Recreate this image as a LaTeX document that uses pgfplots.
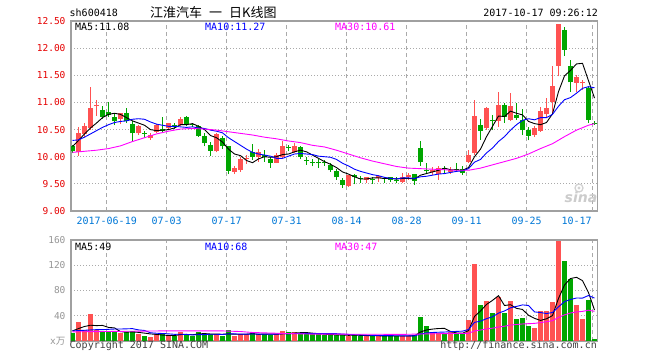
\documentclass[border=0pt]{standalone}
\usepackage{fontspec}
\usepackage{pgfplots}
\usepackage{pgfplotstable}
\pgfplotsset{compat=1.18}
\setmainfont{DejaVu Sans Mono}
\newfontfamily\cjk{Noto Sans CJK SC}
\newfontfamily\sinaf{DejaVu Sans}
\definecolor{kred}{RGB}{255,82,82}
\definecolor{kgreen}{RGB}{0,166,0}
\definecolor{tickred}{RGB}{230,0,0}
\definecolor{dateblue}{RGB}{0,120,215}
\definecolor{framec}{RGB}{160,160,160}
\definecolor{gridc}{RGB}{170,170,170}
\definecolor{ma10}{RGB}{0,0,255}
\definecolor{ma30}{RGB}{255,0,255}
\definecolor{volgray}{RGB}{150,150,150}
\definecolor{textgray}{RGB}{64,64,64}

% red (rising) candles: i low high open close volume
\pgfplotstableread{
i lo hi b0 b1 v
1 10.02 10.55 10.08 10.43 30.4
2 10.36 10.62 10.42 10.56 18
3 10.50 11.28 10.52 10.90 42.7
4 10.75 11.05 10.93 10.95 18
8 10.60 10.81 10.69 10.80 12.8
11 10.40 10.59 10.43 10.57 10.7
13 10.31 10.43 10.34 10.40 6.4
14 10.44 10.61 10.46 10.59 10.7
16 10.49 10.63 10.52 10.62 7.5
18 10.56 10.74 10.59 10.69 14.4
24 10.08 10.44 10.10 10.42 10.7
27 9.68 9.83 9.72 9.80 7.5
28 9.72 9.99 9.75 9.95 10.7
29 9.87 10.03 9.95 9.98 10.7
31 9.91 10.15 10.00 10.09 10.7
34 9.88 10.06 9.89 10.03 10.7
35 9.97 10.29 9.99 10.20 16
37 10.06 10.26 10.09 10.19 13.9
46 9.45 9.67 9.46 9.66 8
49 9.52 9.63 9.58 9.62 8
51 9.54 9.66 9.60 9.64 8
55 9.52 9.70 9.54 9.62 8
56 9.58 9.70 9.63 9.66 8
60 9.66 9.81 9.72 9.75 15
61 9.58 9.82 9.69 9.80 12.3
63 9.68 9.81 9.72 9.75 13.9
66 9.89 10.12 9.91 10.03 33.3
67 10.03 11.05 10.06 10.75 122.7
69 10.50 10.91 10.52 10.89 64
71 10.55 11.20 10.65 10.96 70.5
73 10.66 11.17 10.68 10.94 64
77 10.37 10.57 10.40 10.52 20.5
78 10.46 10.91 10.48 10.85 47.7
79 10.74 11.08 10.78 10.89 47.7
80 10.80 11.67 11.00 11.30 61.5
81 11.48 12.44 11.68 12.44 159
84 11.20 11.51 11.36 11.47 57
85 11.23 11.42 11.35 11.37 35
}\redtab

% green (falling) candles: i low high close open volume
\pgfplotstableread{
i lo hi b0 b1 v
0 10.06 10.22 10.10 10.20 12.8
5 10.70 10.93 10.74 10.86 14.4
6 10.73 11.00 10.77 10.82 14.4
7 10.58 10.80 10.65 10.74 14.4
9 10.62 10.90 10.66 10.80 14.4
10 10.28 10.65 10.43 10.61 16
12 10.35 10.48 10.42 10.44 8.5
15 10.46 10.74 10.48 10.51 10.7
17 10.51 10.63 10.56 10.59 7.5
19 10.56 10.75 10.61 10.74 11.7
20 10.55 10.63 10.58 10.61 8.5
21 10.37 10.59 10.38 10.56 13.9
22 10.19 10.43 10.25 10.38 10.7
23 10.02 10.28 10.11 10.22 10.7
25 10.15 10.38 10.19 10.34 7.5
26 9.68 10.20 9.74 10.19 17
30 9.94 10.24 10.00 10.09 12.8
32 9.91 10.12 9.99 10.03 10.7
33 9.80 9.99 9.88 9.95 9
36 10.10 10.22 10.16 10.18 13.9
38 9.95 10.19 10.00 10.17 11.7
39 9.85 10.00 9.92 9.94 11.7
40 9.82 9.95 9.88 9.90 10.7
41 9.79 9.95 9.88 9.90 10.7
42 9.83 9.94 9.88 9.90 9
43 9.72 9.89 9.75 9.85 9
44 9.58 9.78 9.62 9.74 9.6
45 9.43 9.60 9.48 9.57 9.6
47 9.49 9.69 9.62 9.66 9.6
48 9.52 9.64 9.59 9.61 8
50 9.50 9.63 9.57 9.59 8
52 9.52 9.63 9.59 9.61 8
53 9.54 9.63 9.58 9.62 8
54 9.51 9.63 9.55 9.57 8
57 9.48 9.69 9.56 9.68 9.6
58 9.83 10.29 9.90 10.16 38
59 9.69 9.89 9.73 9.75 24
62 9.69 9.83 9.77 9.79 10.7
64 9.72 9.89 9.75 9.77 12.3
65 9.66 9.83 9.70 9.77 12.3
68 10.31 10.69 10.48 10.59 57.3
70 10.49 10.77 10.65 10.67 44.6
72 10.63 10.99 10.74 10.96 44.6
74 10.68 10.99 10.71 10.77 35
75 10.40 10.88 10.49 10.68 36
76 10.30 10.55 10.38 10.49 24
82 11.86 12.39 11.97 12.34 127
83 11.20 11.78 11.37 11.68 99
86 10.62 11.30 10.68 11.26 65
87 10.59 10.65 10.60 10.63 2.7
}\greentab

\pgfplotsset{
  common/.style={
    scale only axis, width=526.5pt,
    xmin=-0.25, xmax=87.5,
    major tick length=0pt, tick style={draw=none},
    xmajorgrids, ymajorgrids,
    x grid style={draw=gridc, dash pattern=on 4pt off 3pt, line width=0.9pt},
    y grid style={draw=gridc, dash pattern=on 1pt off 2pt, line width=0.9pt},
    axis line style={draw=framec, line width=1.1pt},
    /pgf/number format/assume math mode=true,
  },
  wick/.style={draw=none, mark=none, forget plot,
    error bars/.cd, y dir=plus, y explicit, error mark=none,
    error bar style={draw=#1, line width=1pt}},
  body/.style={draw=none, mark=none, forget plot,
    error bars/.cd, y dir=plus, y explicit, error mark=none,
    error bar style={draw=#1, line width=5pt, line cap=butt}},
}

\begin{document}
\begin{tikzpicture}[x=1pt,y=1pt]
\fill[white] (0pt,0pt) rectangle (660pt,360pt);
\useasboundingbox (0pt,0pt) rectangle (660pt,360pt);

% ---------------- price panel ----------------
\begin{axis}[common,
  at={(71pt,149pt)}, anchor=south west, height=190pt,
  ymin=9, ymax=12.5,
  ytick={9,9.5,10,10.5,11,11.5,12,12.5},
  yticklabel={\pgfmathprintnumber[fixed,fixed zerofill,precision=2]{\tick}},
  yticklabel style={font=\fontsize{9.5}{10}\selectfont, text=tickred, xshift=-2pt},
  xtick={5.7,15.7,25.7,35.7,45.7,55.7,65.7,75.7},
  xticklabels={2017-06-19,07-03,07-17,07-31,08-14,08-28,09-11,09-25},
  xticklabel style={font=\fontsize{10}{11}\selectfont, text=dateblue, yshift=-3pt},
  extra x ticks={86.7}, extra x tick labels={10-17},
  extra x tick style={xmajorgrids=true, tick label style={anchor=north east, xshift=2.5pt}},
]
\addplot[wick=kred] table[x=i, y=lo, y error plus expr=\thisrow{hi}-\thisrow{lo}] {\redtab};
\addplot[body=kred] table[x=i, y=b0, y error plus expr=\thisrow{b1}-\thisrow{b0}] {\redtab};
\addplot[wick=kgreen] table[x=i, y=lo, y error plus expr=\thisrow{hi}-\thisrow{lo}] {\greentab};
\addplot[body=kgreen] table[x=i, y=b0, y error plus expr=\thisrow{b1}-\thisrow{b0}] {\greentab};
% MA5
\addplot[black, line width=0.9pt, mark=none] coordinates {
(0,10.19)(1,10.30)(2,10.42)(3,10.53)(4,10.62)(5,10.72)(6,10.78)(7,10.80)(8,10.78)(9,10.72)(10,10.66)(11,10.62)(12,10.58)(13,10.50)(14,10.48)(15,10.49)(16,10.50)(17,10.53)(18,10.59)(19,10.59)(20,10.61)(21,10.56)(22,10.50)(23,10.39)(24,10.35)(25,10.27)(26,10.14)(27,10.05)(28,10.02)(29,9.93)(30,9.89)(31,9.96)(32,10.00)(33,9.99)(34,10.00)(35,10.04)(36,10.05)(37,10.09)(38,10.12)(39,10.09)(40,10.03)(41,9.97)(42,9.91)(43,9.86)(44,9.80)(45,9.72)(46,9.68)(47,9.63)(48,9.59)(49,9.59)(50,9.61)(51,9.61)(52,9.60)(53,9.60)(54,9.59)(55,9.60)(56,9.60)(57,9.59)(58,9.66)(59,9.69)(60,9.72)(61,9.75)(62,9.79)(63,9.76)(64,9.76)(65,9.75)(66,9.80)(67,10.00)(68,10.14)(69,10.37)(70,10.56)(71,10.75)(72,10.74)(73,10.84)(74,10.80)(75,10.77)(76,10.65)(77,10.61)(78,10.59)(79,10.63)(80,10.79)(81,11.20)(82,11.49)(83,11.59)(84,11.71)(85,11.72)(86,11.40)(87,11.08)};
% MA10
\addplot[ma10, line width=0.9pt, mark=none] coordinates {
(0,10.30)(1,10.31)(2,10.36)(3,10.42)(4,10.48)(5,10.54)(6,10.59)(7,10.63)(8,10.65)(9,10.66)(10,10.69)(11,10.70)(12,10.69)(13,10.64)(14,10.60)(15,10.58)(16,10.56)(17,10.56)(18,10.55)(19,10.54)(20,10.55)(21,10.53)(22,10.52)(23,10.49)(24,10.47)(25,10.44)(26,10.35)(27,10.28)(28,10.21)(29,10.14)(30,10.08)(31,10.05)(32,10.03)(33,10.01)(34,9.97)(35,9.97)(36,10.01)(37,10.05)(38,10.06)(39,10.05)(40,10.04)(41,10.01)(42,10.00)(43,9.99)(44,9.95)(45,9.88)(46,9.83)(47,9.77)(48,9.73)(49,9.70)(50,9.67)(51,9.65)(52,9.62)(53,9.60)(54,9.59)(55,9.61)(56,9.61)(57,9.60)(58,9.63)(59,9.64)(60,9.66)(61,9.68)(62,9.69)(63,9.71)(64,9.73)(65,9.74)(66,9.78)(67,9.90)(68,9.95)(69,10.07)(70,10.16)(71,10.28)(72,10.37)(73,10.49)(74,10.59)(75,10.67)(76,10.70)(77,10.68)(78,10.72)(79,10.72)(80,10.78)(81,10.93)(82,11.05)(83,11.09)(84,11.17)(85,11.26)(86,11.29)(87,11.27)};
% MA30
\addplot[ma30, line width=0.9pt, mark=none] coordinates {
(0,10.08)(2,10.10)(4,10.12)(6,10.15)(8,10.20)(10,10.28)(12,10.35)(14,10.42)(16,10.47)(18,10.51)(20,10.52)(22,10.51)(24,10.49)(26,10.46)(28,10.43)(30,10.40)(32,10.36)(34,10.33)(36,10.29)(38,10.26)(40,10.21)(42,10.18)(44,10.12)(46,10.05)(48,9.98)(50,9.92)(52,9.87)(54,9.82)(56,9.79)(58,9.78)(60,9.77)(62,9.76)(64,9.75)(66,9.75)(68,9.79)(70,9.85)(72,9.91)(74,9.97)(76,10.05)(78,10.15)(80,10.24)(82,10.37)(84,10.49)(86,10.58)(87,10.61)};
\end{axis}

% ---------------- volume panel ----------------
\begin{axis}[common,
  at={(71pt,19pt)}, anchor=south west, height=101pt,
  ymin=0, ymax=160,
  ytick={0,40,80,120,160},
  yticklabels={{x{\cjk 万}},40,80,120,160},
  yticklabel style={font=\fontsize{9.5}{10}\selectfont, text=volgray, xshift=-2pt},
  xtick={5.7,15.7,25.7,35.7,45.7,55.7,65.7,75.7,86.7},
  xticklabels={},
]
\addplot[ycomb, draw=kred, line width=5pt, mark=none] table[x=i, y=v] {\redtab};
\addplot[ycomb, draw=kgreen, line width=5pt, mark=none] table[x=i, y=v] {\greentab};
\addplot[black, line width=0.9pt, mark=none] coordinates {
(0,16)(1,19.7)(2,23)(3,25)(4,24.4)(5,24.7)(6,21.5)(7,20.8)(8,14.8)(9,14.1)(10,14.4)(11,13.7)(12,12.5)(13,11.2)(14,10.5)(15,9.4)(16,8.8)(17,8.6)(18,10.2)(19,10.4)(20,9.9)(21,11.2)(22,11.8)(23,11.1)(24,10.9)(25,10.7)(26,11.3)(27,10.7)(28,10.7)(29,10.7)(30,11.7)(31,10.5)(32,11.1)(33,10.8)(34,10.8)(35,11.4)(36,12.1)(37,12.7)(38,13.2)(39,13.4)(40,12.4)(41,11.7)(42,10.8)(43,10.2)(44,9.8)(45,9.6)(46,9.0)(47,9.2)(48,9.0)(49,8.6)(50,8.3)(51,8.3)(52,8)(53,8)(54,8)(55,8)(56,8)(57,8.3)(58,14.3)(59,17.5)(60,18.9)(61,19.8)(62,20)(63,15.2)(64,12.8)(65,12.3)(66,16.5)(67,38.9)(68,47.6)(69,57.9)(70,64.4)(71,71.8)(72,56.2)(73,57.5)(74,51.7)(75,50)(76,40.7)(77,35.9)(78,32.6)(79,35.2)(80,40.3)(81,67.5)(82,88.8)(83,99)(84,100.9)(85,95.6)(86,76.6)(87,49)};
\addplot[ma10, line width=0.9pt, mark=none] coordinates {
(0,16)(1,16.5)(2,17)(3,17.5)(4,18)(5,18)(6,18.5)(7,19)(8,19)(9,19.3)(10,19.6)(11,17.6)(12,16.7)(13,13.0)(14,12.3)(15,11.9)(16,11.3)(17,10.6)(18,10.7)(19,10.5)(20,9.7)(21,10.0)(22,10.2)(23,10.7)(24,10.7)(25,10.3)(26,11.3)(27,11.3)(28,10.9)(29,10.8)(30,11.2)(31,10.9)(32,10.9)(33,10.8)(34,10.8)(35,11.6)(36,11.3)(37,11.9)(38,12.0)(39,12.1)(40,11.9)(41,11.9)(42,11.8)(43,11.7)(44,11.6)(45,11.0)(46,10.4)(47,10.0)(48,9.6)(49,9.2)(50,9.0)(51,8.7)(52,8.6)(53,8.5)(54,8.3)(55,8.2)(56,8.2)(57,8.2)(58,11.2)(59,12.8)(60,13.5)(61,13.9)(62,14.2)(63,14.8)(64,15.2)(65,15.6)(66,18.2)(67,29.5)(68,31.4)(69,35.4)(70,38.4)(71,44.2)(72,47.6)(73,52.6)(74,54.8)(75,57.2)(76,56.3)(77,46.1)(78,45.1)(79,43.5)(80,45.2)(81,54.1)(82,62.4)(83,65.8)(84,68.1)(85,68.0)(86,72.1)(87,68)};
\addplot[ma30, line width=0.9pt, mark=none] coordinates {
(0,14.5)(5,15)(10,15.5)(15,16)(20,16)(25,16)(28,15)(30,13.5)(35,12)(40,10.9)(45,10.8)(50,10.7)(55,10.5)(60,11.4)(63,11.8)(66,12.2)(67,15.9)(68,17.4)(69,19.1)(70,20.3)(71,22.2)(72,23.4)(73,25.3)(74,26.1)(75,27.0)(76,27.5)(77,27.9)(78,29.2)(79,30.5)(80,32.3)(81,37.4)(82,41.4)(83,44.4)(84,46.0)(85,46.9)(86,48.8)(87,47)};
\end{axis}

% ---------------- texts ----------------
\node[anchor=west, inner sep=0pt, font=\fontsize{10}{11}\selectfont] at (69.5pt,347pt) {sh600418};
\node[anchor=west, inner sep=0pt] at (150pt,347pt) {\cjk\fontsize{13}{14}\selectfont 江淮汽车\hspace{7pt}一\hspace{7pt}日K线图};
\node[anchor=east, inner sep=0pt, font=\fontsize{10}{11}\selectfont] at (598pt,347pt) {2017-10-17 09:26:12};

\node[anchor=west, inner sep=0pt, font=\fontsize{10}{11}\selectfont] at (75pt,333.5pt) {MA5:11.08};
\node[anchor=west, inner sep=0pt, font=\fontsize{10}{11}\selectfont, text=ma10] at (205pt,333.5pt) {MA10:11.27};
\node[anchor=west, inner sep=0pt, font=\fontsize{10}{11}\selectfont, text=ma30] at (335pt,333.5pt) {MA30:10.61};

\node[anchor=west, inner sep=0pt, font=\fontsize{10}{11}\selectfont] at (75pt,113.3pt) {MA5:49};
\node[anchor=west, inner sep=0pt, font=\fontsize{10}{11}\selectfont, text=ma10] at (205pt,113.3pt) {MA10:68};
\node[anchor=west, inner sep=0pt, font=\fontsize{10}{11}\selectfont, text=ma30] at (335pt,113.3pt) {MA30:47};

\node[anchor=west, inner sep=0pt, font=\fontsize{10}{11}\selectfont, text=textgray] at (69.5pt,14.5pt) {Copyright 2017 SINA.COM};
\node[anchor=east, inner sep=0pt, font=\fontsize{10}{11}\selectfont, text=textgray] at (597pt,14.5pt) {http://finance.sina.com.cn};

% sina watermark
\draw[gray!35, line width=1.3pt] (579pt,172pt) circle (4pt);
\fill[gray!35] (579pt,172pt) circle (1.6pt);
\node[inner sep=0pt, text=gray!40] at (581pt,163pt) {\sinaf\bfseries\itshape\fontsize{14}{15}\selectfont sina};
\end{tikzpicture}
\end{document}
